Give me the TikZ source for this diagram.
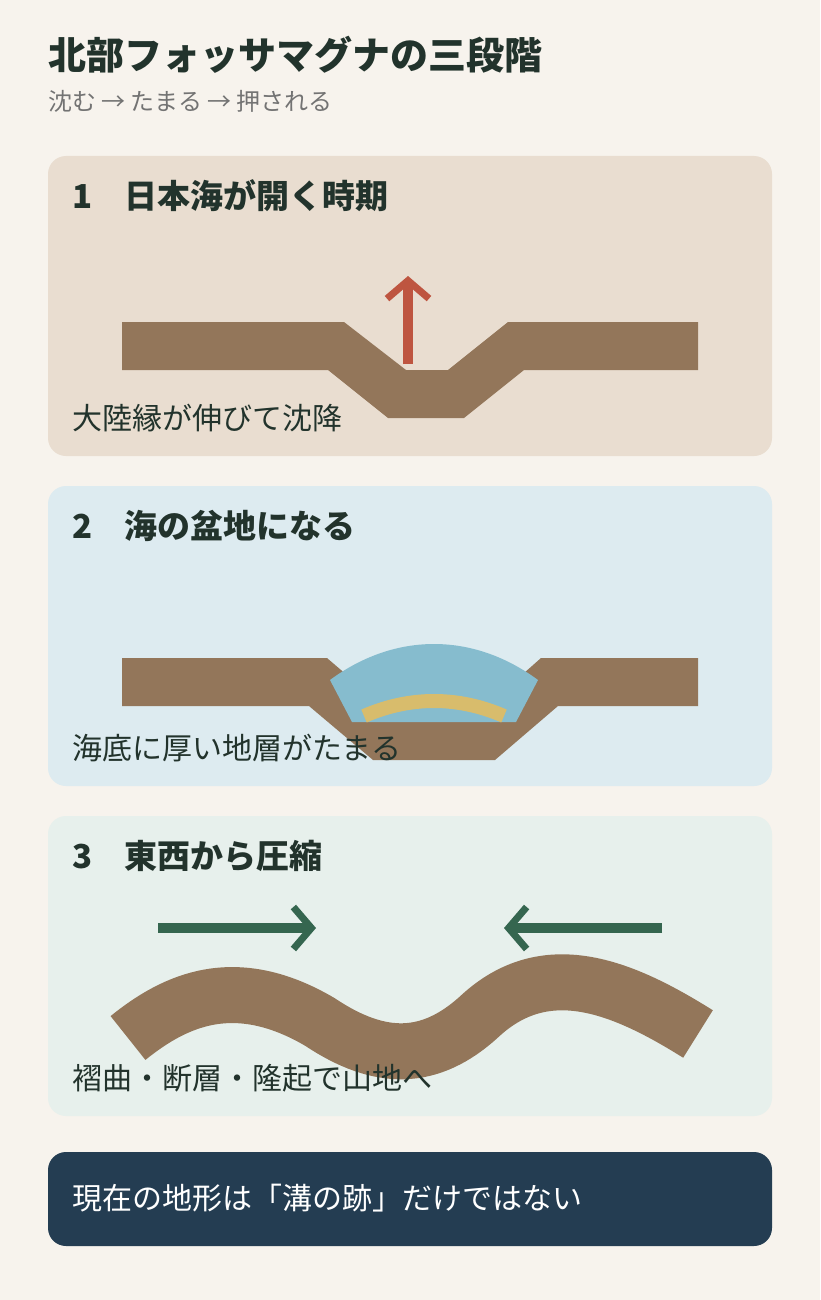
\documentclass[tikz,border=0pt]{standalone}
\usepackage{fontspec}
\setmainfont{Noto Sans CJK JP}
\usetikzlibrary{arrows.meta}
\definecolor{paper}{HTML}{F7F3ED}
\definecolor{sand}{HTML}{E9DDD0}
\definecolor{sky}{HTML}{DDEBF0}
\definecolor{mint}{HTML}{E7F0EC}
\definecolor{navy}{HTML}{243D52}
\definecolor{rock}{HTML}{93765A}
\definecolor{rust}{HTML}{BE5540}
\definecolor{sea}{HTML}{86BCCE}
\definecolor{silt}{HTML}{D8BC6C}
\definecolor{pine}{HTML}{35664F}
\definecolor{ink}{HTML}{22332C}
\begin{document}
\begin{tikzpicture}[x=1pt,y=-1pt,% styles used in image code
          > = {Straight Barb[length=18pt,width=42pt,line width=7pt]},
panel/.style = {rounded corners=18pt},
title/.style = {anchor=base west, inner sep=0pt, font=\fontsize{38}{44}\selectfont\bfseries, text=ink},
head/.style  = {anchor=base west, inner sep=0pt, font=\fontsize{33}{38}\selectfont\bfseries, text=ink},
body/.style  = {anchor=base west, inner sep=0pt, font=\fontsize{30}{36}\selectfont, text=ink},
push/.style  = {->, line width=10pt, draw=#1}
                   ]
	% page and panels
	\fill[paper] (0,0) rectangle (820,1300);
	\fill[sand, panel] (48,156) rectangle (772,456);
	\fill[sky,  panel] (48,486) rectangle (772,786);
	\fill[mint, panel] (48,816) rectangle (772,1116);
	\fill[navy, panel] (48,1152) rectangle (772,1246);

	\node[title] (ttl) at (48,70) {北部フォッサマグナの三段階};
	\node[anchor=base west, inner sep=0pt, font=\fontsize{24}{28}\selectfont, text=black!55] (sub) at (48,111) {沈む → たまる → 押される};

	% stage 1
	\node[head] (h1) at (72,208) {1\hspace{32pt}日本海が開く時期};
	\fill[rock] (122,322) -- (344,322) -- (406,370) -- (448,370) -- (508,322) -- (698,322)
	        -- (698,370) -- (524,370) -- (464,418) -- (388,418) -- (328,370) -- (122,370) -- cycle;
	\coordinate (up0) at (408,364);
	\coordinate (up1) at (408,276);
	\draw[push=rust] (up0) -- (up1);
	\node[body] (b1) at (72,429) {大陸縁が伸びて沈降};

	% stage 2
	\node[head] (h2) at (72,538) {2\hspace{32pt}海の盆地になる};
	\fill[rock] (122,658) -- (327,658) -- (390,712) -- (480,712) -- (541,658) -- (698,658)
	        -- (698,706) -- (558,706) -- (495,760) -- (373,760) -- (309,706) -- (122,706) -- cycle;
	\fill[sea] (330,680) .. controls (395,632) and (473,632) .. (538,680) -- (516,722) -- (352,722) -- cycle;
	\draw[silt, line width=14pt] (364,716) .. controls (410,696) and (458,696) .. (504,716);
	\node[body] (b2) at (72,759) {海底に厚い地層がたまる};

	% stage 3
	\node[head] (h3) at (72,868) {3\hspace{32pt}東西から圧縮};
	\draw[rock, line width=56pt] (128,1038) .. controls (175,1000) and (235,972) .. (320,1022)
	        .. controls (380,1062) and (430,1062) .. (480,1016)
	        .. controls (545,956) and (620,985) .. (698,1034);
	\coordinate (wl) at (158,928);
	\coordinate (el) at (316,928);
	\coordinate (wr) at (662,928);
	\coordinate (er) at (504,928);
	\draw[push=pine] (wl) -- (el);
	\draw[push=pine] (wr) -- (er);
	\node[body] (b3) at (72,1089) {褶曲・断層・隆起で山地へ};

	% closing note
	\node[body, text=white] (note) at (72,1209) {現在の地形は「溝の跡」だけではない};
\end{tikzpicture}
\end{document}
